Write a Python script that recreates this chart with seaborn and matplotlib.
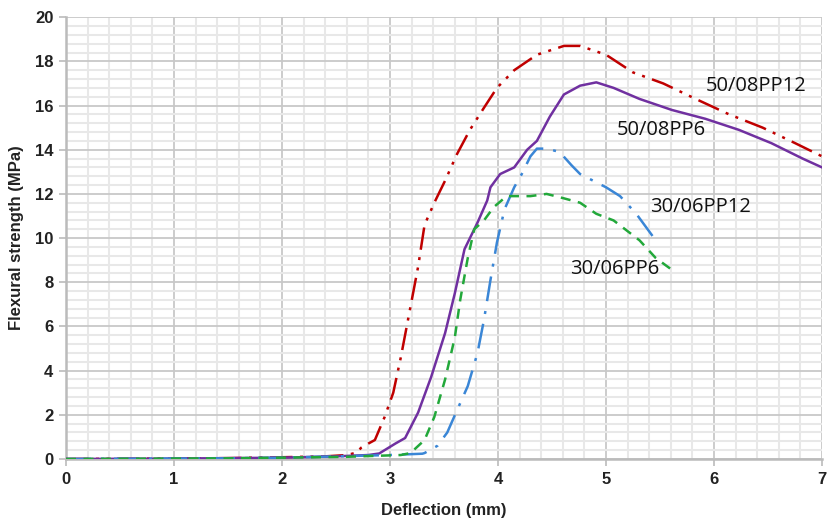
import matplotlib
matplotlib.use("Agg")
from matplotlib import pyplot as plt
from matplotlib.ticker import MultipleLocator
import seaborn as sns
import pandas as pd

# 50/08PP12 (red, dash-dot-dot)
x_5012 = [0, 0.5, 1.0, 1.5, 2.0, 2.4, 2.6, 2.7, 2.73, 2.80, 2.86, 2.95, 3.03, 3.10, 3.19, 3.26,
          3.32, 3.41, 3.51, 3.62, 3.74, 3.87, 3.99, 4.15, 4.36, 4.61, 4.76, 5.00, 5.25, 5.53,
          5.83, 6.14, 6.45, 6.75, 7.0]
y_5012 = [0, 0.01, 0.02, 0.04, 0.08, 0.12, 0.18, 0.3, 0.5, 0.7, 0.86, 1.9, 3.0, 4.6, 6.9, 8.7,
          10.6, 11.6, 12.6, 13.8, 14.9, 15.9, 16.8, 17.6, 18.3, 18.7, 18.7, 18.3, 17.5, 17.0,
          16.3, 15.6, 15.0, 14.3, 13.7]

# 50/08PP6 (purple, solid)
x_506 = [0, 0.5, 1.0, 1.5, 2.0, 2.5, 2.8, 2.9, 2.95, 3.05, 3.14, 3.26, 3.38, 3.51, 3.60, 3.69,
         3.72, 3.81, 3.90, 3.93, 4.02, 4.15, 4.27, 4.36, 4.48, 4.61, 4.76, 4.91, 5.07, 5.31,
         5.61, 5.92, 6.23, 6.53, 6.82, 7.0]
y_506 = [0, 0.01, 0.02, 0.04, 0.06, 0.12, 0.18, 0.25, 0.4, 0.7, 0.95, 2.1, 3.7, 5.7, 7.5, 9.5,
         9.8, 10.7, 11.7, 12.3, 12.9, 13.2, 14.0, 14.4, 15.5, 16.5, 16.9, 17.05, 16.8, 16.3,
         15.8, 15.4, 14.9, 14.3, 13.6, 13.2]

# 30/06PP12 (blue, long dash-dot)
x_3012 = [0, 0.5, 1.0, 1.5, 2.0, 2.5, 3.0, 3.1, 3.3, 3.32, 3.44, 3.53, 3.62, 3.72, 3.81, 3.87,
          3.93, 3.99, 4.06, 4.15, 4.22, 4.30, 4.36, 4.45, 4.57, 4.68, 4.76, 5.0, 5.13, 5.28, 5.46]
y_3012 = [0, 0.01, 0.02, 0.03, 0.06, 0.12, 0.18, 0.2, 0.24, 0.27, 0.6, 1.2, 2.2, 3.3, 4.8, 6.3,
          8.1, 9.8, 11.3, 12.3, 12.9, 13.7, 14.05, 14.05, 13.9, 13.3, 12.9, 12.3, 11.9, 11.1, 9.9]

# 30/06PP6 (green, dashed)
x_306 = [0, 0.5, 1.0, 1.5, 2.0, 2.6, 3.1, 3.19, 3.32, 3.41, 3.51, 3.60, 3.65, 3.72, 3.78, 3.87,
         3.96, 4.08, 4.30, 4.45, 4.61, 4.76, 4.91, 5.07, 5.31, 5.46, 5.60]
y_306 = [0, 0.01, 0.02, 0.03, 0.06, 0.1, 0.18, 0.27, 0.86, 1.9, 3.6, 5.5, 7.2, 9.1, 10.4, 10.8,
         11.4, 11.9, 11.9, 12.0, 11.8, 11.6, 11.1, 10.8, 9.9, 9.1, 8.6]

names = ["50/08PP12", "50/08PP6", "30/06PP12", "30/06PP6"]
label_pos = [(5.92, 16.9), (5.10, 14.9), (5.41, 11.4), (4.67, 8.6)]

sns.set_style("white")
plt.rcParams["font.family"] = ["Liberation Sans", "DejaVu Sans"]

fig = plt.figure(figsize=(8.29, 5.21), dpi=100)
ax = fig.add_axes([0.0796, 0.119, 0.912, 0.848])

series = [
    (x_5012, y_5012, "#C00000", (0, (9, 3, 1.2, 3, 1.2, 3))),
    (x_506, y_506, "#7030A0", "-"),
    (x_3012, y_3012, "#3A86D6", (0, (10, 4, 1.2, 4))),
    (x_306, y_306, "#22A83A", (0, (4, 3))),
]
for xs, ys, col, ls in series:
    df = pd.DataFrame({"x": xs, "y": ys})
    sns.lineplot(data=df, x="x", y="y", ax=ax, color=col, linestyle=ls,
                 linewidth=1.8, sort=False, zorder=3)

for name, (tx, ty) in zip(names, label_pos):
    ax.text(tx, ty, name, fontsize=14.5, va="center", ha="left", color="#111111",
            family=["Open Sans", "DejaVu Sans"])

ax.set_xlim(0, 7)
ax.set_ylim(0, 20)
ax.xaxis.set_major_locator(MultipleLocator(1))
ax.xaxis.set_minor_locator(MultipleLocator(0.2))
ax.yaxis.set_major_locator(MultipleLocator(2))
ax.yaxis.set_minor_locator(MultipleLocator(0.4))
ax.grid(which="major", color="#C8C8C8", linewidth=1.3, zorder=0)
ax.grid(which="minor", color="#E8E8E8", linewidth=1.5, zorder=0)
ax.set_axisbelow(True)

for s in ["top", "right"]:
    ax.spines[s].set_visible(False)
for s in ["left", "bottom"]:
    ax.spines[s].set_color("#BBBBBB")
    ax.spines[s].set_linewidth(1.8)

ax.tick_params(which="major", length=5, width=1.2, color="#BBBBBB",
               labelsize=12, labelcolor="#222222", pad=4)
ax.tick_params(which="minor", length=0)
ax.tick_params(axis="x", bottom=True)
ax.tick_params(axis="y", left=True)
for lab in ax.get_xticklabels() + ax.get_yticklabels():
    lab.set_fontweight("bold")

ax.set_xlabel("Deflection (mm)", fontsize=12, fontweight="bold", color="#222222", labelpad=12)
ax.set_ylabel("Flexural strength (MPa)", fontsize=12, fontweight="bold", color="#222222", labelpad=8)

fig.savefig("out.png", dpi=100)
